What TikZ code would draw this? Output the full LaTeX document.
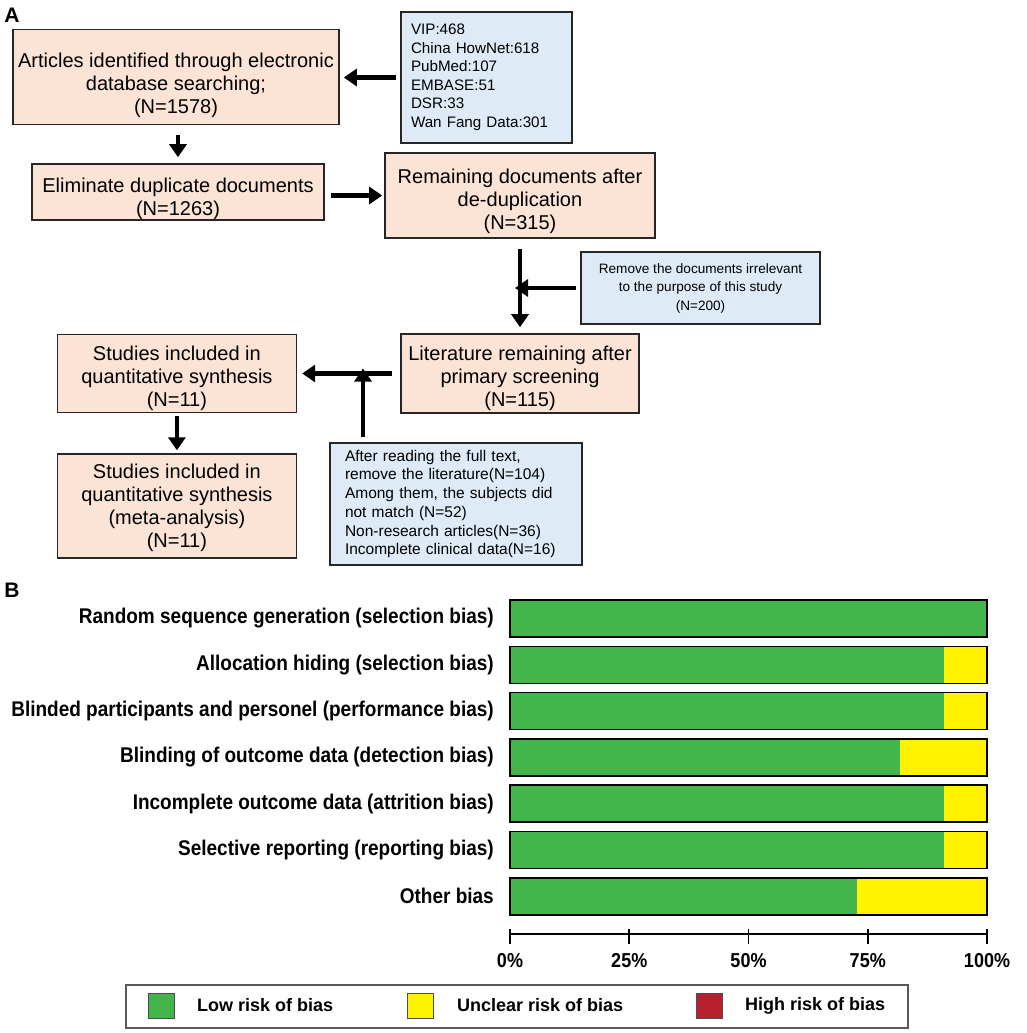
\documentclass[tikz,border=0pt]{standalone}
\usepackage{fontspec}
\setmainfont{Liberation Sans}
\usepackage{xcolor}
\usepackage{graphicx}
\usetikzlibrary{positioning,calc,arrows.meta}

\definecolor{peach}{RGB}{251,228,214}
\definecolor{notefill}{RGB}{222,235,247}
\definecolor{lowgreen}{RGB}{67,181,74}
\definecolor{unclearyel}{RGB}{255,242,0}
\definecolor{highred}{RGB}{185,32,46}

\newcommand{\tallbf}[1]{\scalebox{1}[1.12]{#1}}

\begin{document}
\begin{tikzpicture}[
  x=1pt, y=-1pt,
  flowbox/.style={draw=black!85, line width=1.6pt, fill=peach, align=center, inner sep=0pt,
    font=\fontsize{20}{23}\selectfont, text height=66pt, text depth=0pt},
  notebox/.style={draw=black!85, line width=1.6pt, fill=notefill, inner sep=0pt},
  arrow/.style={line width=4.5pt, -{Triangle[length=13pt,width=17pt]}},
  rowlbl/.style={font=\bfseries\fontsize{19}{21}\selectfont, anchor=east, inner sep=0pt},
  ticklbl/.style={font=\bfseries\fontsize{18}{20}\selectfont, inner sep=0pt},
  swatch/.style={draw=black!70, line width=1pt, minimum width=26pt, minimum height=25pt, inner sep=0pt},
  keylbl/.style={font=\bfseries\fontsize{18}{20}\selectfont, anchor=west, inner sep=0pt}
]
\useasboundingbox (0,0) rectangle (1026,1033);
\fill[white] (0,0) rectangle (1026,1033);

% Panel A: flow of the literature search
\node[font=\bfseries\fontsize{21}{21}\selectfont] (lblA) at (12,15) {A};

\node[flowbox, minimum width=326pt, minimum height=95pt, text height=72pt] (search) at (176,77)
  {Articles identified through electronic\\database searching;\\(N=1578)};
\node[notebox, minimum height=131pt, text width=151pt, inner xsep=10pt, align=left,
  font=\fontsize{15.2}{18.5}\selectfont] (sources) at (486.5,77.5)
  {VIP:468\\China HowNet:618\\PubMed:107\\EMBASE:51\\DSR:33\\Wan Fang Data:301};
\node[flowbox, minimum width=292pt, minimum height=56pt, text height=47pt] (dedup) at (178,192)
  {Eliminate duplicate documents\\(N=1263)};
\node[flowbox, minimum width=270pt, minimum height=85pt, text height=68pt] (remain) at (520,195.5)
  {Remaining documents after\\de-duplication\\(N=315)};
\node[notebox, minimum width=239pt, minimum height=72pt, align=center,
  font=\fontsize{13.6}{18.5}\selectfont] (irrel) at (700.5,288)
  {Remove the documents irrelevant\\to the purpose of this study\\(N=200)};
\node[flowbox, minimum width=238pt, minimum height=79pt] (primary) at (520,373.5)
  {Literature remaining after\\primary screening\\(N=115)};
\node[flowbox, minimum width=239pt, minimum height=78pt, left=103pt of primary] (quant)
  {Studies included in\\quantitative synthesis\\(N=11)};
\node[flowbox, minimum width=239pt, minimum height=104pt, below=40pt of quant,
  text height=84pt, text depth=1pt] (meta)
  {Studies included in\\quantitative synthesis\\(meta-analysis)\\(N=11)};
\node[notebox, minimum height=122pt, text width=222pt, inner xsep=15pt, align=left,
  font=\fontsize{15.5}{18.7}\selectfont] (fulltext) at (456,504)
  {After reading the full text,\\remove the literature(N=104)\\Among them, the subjects did\\not match (N=52)\\Non-research articles(N=36)\\Incomplete clinical data(N=16)};

\coordinate (cut) at (remain.south |- irrel.west);
\coordinate (foot) at (363,443);

% Main path
\draw[arrow, shorten <=4pt, shorten >=4pt] (sources.west) -- (sources.west -| search.east);
\draw[arrow, shorten <=10pt, shorten >=6pt] (dedup.north |- search.south) -- (dedup.north);
\draw[arrow, shorten <=6pt, shorten >=2pt] (dedup.east |- remain.west) -- (remain.west);
\draw[arrow, shorten <=10pt, shorten >=6pt] (remain.south) -- (primary.north);
\draw[arrow, shorten <=8pt, shorten >=5pt] (primary.west) -- (quant.east);
\draw[arrow, shorten <=3pt, shorten >=3pt] (quant.south) -- (meta.north);

% Exclusions feeding in
\draw[arrow, shorten <=4pt, shorten >=-5pt] (irrel.west) -- (cut);
\draw[arrow, shorten <=6pt, shorten >=-5pt] (foot) -- (foot |- quant.east);

% Panel B: risk of bias bars
\node[font=\bfseries\fontsize{21}{21}\selectfont] (lblB) at (12,590) {B};

\foreach \lab/\low [count=\i from 0] in {
    Random sequence generation (selection bias)/1,
    Allocation hiding (selection bias)/0.909,
    Blinded participants and personel (performance bias)/0.909,
    Blinding of outcome data (detection bias)/0.818,
    Incomplete outcome data (attrition bias)/0.909,
    Selective reporting (reporting bias)/0.909,
    Other bias/0.727} {
  \pgfmathsetmacro\ytop{600+46.3*\i}
  \fill[lowgreen] (510,\ytop) rectangle ({510+477*\low},\ytop+37);
  \fill[unclearyel] ({510+477*\low},\ytop) rectangle (987,\ytop+37);
  \draw[line width=1.6pt] (510,\ytop) rectangle (987,\ytop+37);
  \node[rowlbl] (row\i) at (494,\ytop+18.5) {\tallbf{\lab}};
}

% axis
\draw[line width=1.6pt] (510,934) -- (987,934);
\foreach \p in {0,25,50,75,100} {
  \draw[line width=1.6pt] (510+4.77*\p,929) -- (510+4.77*\p,944);
  \node[ticklbl] (tick\p) at (510+4.77*\p,961) {\tallbf{\p\%}};
}

% legend
\draw[line width=1.2pt, draw=black!65] (126,985) rectangle (908,1028);
\node[swatch, fill=lowgreen] (swlow) at (161,1005.5) {};
\node[keylbl] (keylow) at (197,1005.5) {Low risk of bias};
\node[swatch, fill=unclearyel] (swunclear) at (420,1005.5) {};
\node[keylbl] (keyunclear) at (457,1005.5) {Unclear risk of bias};
\node[swatch, fill=highred] (swhigh) at (709,1005.5) {};
\node[keylbl] (keyhigh) at (745,1005.5) {High risk of bias};
\end{tikzpicture}
\end{document}
